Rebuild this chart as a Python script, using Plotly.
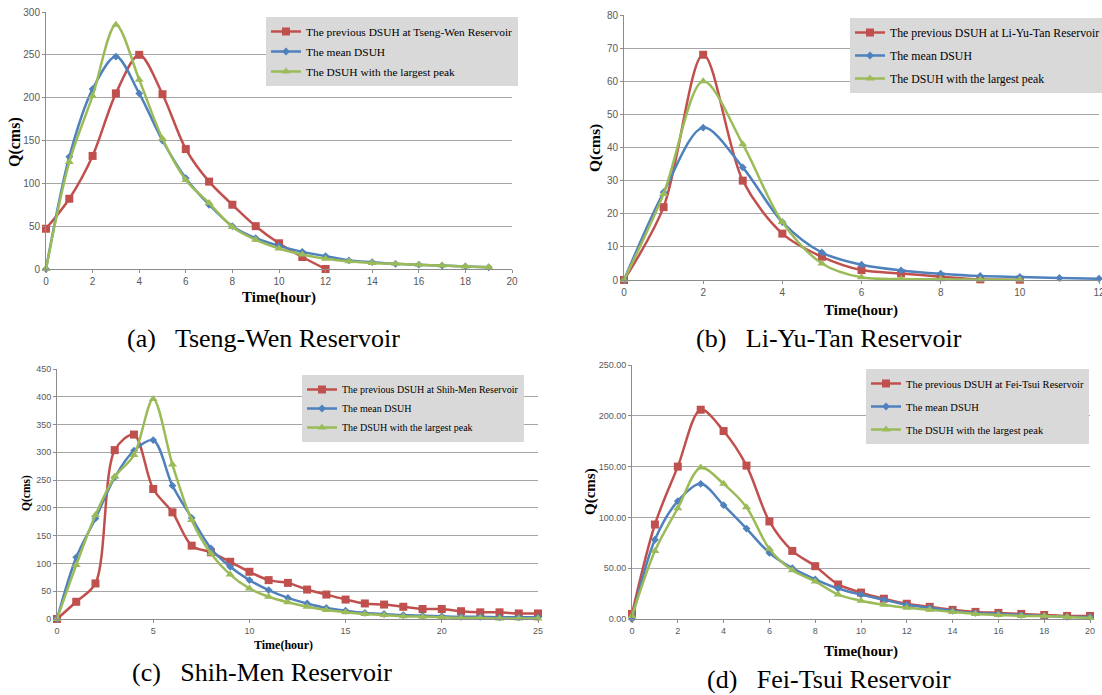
import plotly.graph_objects as go

W, H = 1102, 695

# ---------------- data ----------------
# (a) Tseng-Wen
tw_prev_t = [0, 1, 2, 3, 4, 5, 6, 7, 8, 9, 10, 11, 12]
tw_prev_q = [47, 82, 132, 205, 250, 204, 140, 102, 75, 50, 30, 14, 0]
tw_mean_t = list(range(0, 20))
tw_mean_q = [0, 131, 210, 248, 205, 150, 106, 75, 50, 36, 27, 20, 15, 10, 8, 6, 5, 4, 3, 2]
tw_max_t = list(range(0, 20))
tw_max_q = [0, 125, 202, 285, 221, 152, 104, 77, 49, 34, 24, 17, 12, 9, 7, 6, 5, 4, 3, 2]

# (b) Li-Yu-Tan
ly_prev_t = [0, 1, 2, 3, 4, 5, 6, 7, 8, 9, 10]
ly_prev_q = [0, 22, 68, 30, 14, 7, 3, 2, 1, 0.2, 0.1]
ly_mean_t = list(range(0, 13))
ly_mean_q = [0, 26.5, 46, 34, 17.5, 8.3, 4.6, 2.9, 1.9, 1.2, 0.9, 0.6, 0.4]
ly_max_t = [0, 1, 2, 3, 4, 5, 6, 7, 8, 9, 10]
ly_max_q = [0, 26, 60, 41, 17.5, 5, 0.8, 0.3, 0.2, 0.1, 0.1]

# (c) Shih-Men
sm_t = list(range(0, 26))
sm_prev_q = [0, 31, 64, 304, 332, 234, 192, 132, 120, 103, 85, 70, 65, 53, 44, 35,
             28, 26, 22, 18, 18, 14, 12, 12, 10, 10]
sm_mean_q = [0, 111, 181, 255, 303, 322, 240, 182, 127, 94, 70, 52, 38, 28, 20, 15,
             11, 9, 7, 6, 5, 4, 4, 3, 3, 3]
sm_max_q = [0, 97, 187, 256, 295, 396, 278, 178, 118, 80, 55, 40, 30, 22, 16, 12,
            9, 7, 5, 4, 3, 2, 2, 1, 1, 1]

# (d) Fei-Tsui
ft_t = list(range(0, 21))
ft_prev_q = [5, 93, 150, 206, 185, 151, 96, 67, 52, 34, 26, 20, 15, 12, 9, 7, 6, 5, 4, 3, 3]
ft_mean_q = [0, 78, 116, 133, 112, 89, 65, 50, 39, 30, 24, 19, 14, 11, 8, 6, 5, 4, 3, 2, 2]
ft_max_q = [3, 67, 109, 149, 133, 110, 69, 48, 37, 24, 18, 14, 11, 9, 7, 5, 4, 3, 3, 2, 1]

names_a = ["The previous DSUH at Tseng-Wen Reservoir", "The mean DSUH", "The DSUH with the largest peak"]
names_b = ["The previous DSUH at Li-Yu-Tan Reservoir", "The mean DSUH", "The DSUH with the largest peak"]
names_c = ["The previous DSUH at Shih-Men Reservoir", "The mean DSUH", "The DSUH with the largest peak"]
names_d = ["The previous DSUH at Fei-Tsui Reservoir", "The mean DSUH", "The DSUH with the largest peak"]

captions = ["(a)   Tseng-Wen Reservoir", "(b)   Li-Yu-Tan Reservoir",
            "(c)   Shih-Men Reservoir", "(d)   Fei-Tsui Reservoir"]

RED, BLUE, GREEN = "#C0504D", "#4F81BD", "#9BBB59"
SERIF = "Liberation Serif"


def px(x):
    return x / W


def py(y):
    return 1 - y / H


fig = go.Figure()

panels = [
    dict(ax="", box=(46, 512, 12, 269), xr=[0, 20], xd=2, yr=[0, 300], yd=50, yfmt=None,
         series=[(tw_prev_t, tw_prev_q), (tw_mean_t, tw_mean_q), (tw_max_t, tw_max_q)], names=names_a,
         leg=(266, 17), legfont=11.4, gap=1, tick=10,
         qt=(15, 142, 16), tt=(279, 298, 15), cap=(263, 338), capsize=26),
    dict(ax="2", box=(624, 1099, 15, 280), xr=[0, 12], xd=2, yr=[0, 80], yd=10, yfmt=None,
         series=[(ly_prev_t, ly_prev_q), (ly_mean_t, ly_mean_q), (ly_max_t, ly_max_q)], names=names_b,
         leg=(850, 18), legfont=11.8, gap=4, tick=10,
         qt=(595, 148, 15.5), tt=(861, 310, 15), cap=(829, 338), capsize=26),
    dict(ax="3", box=(57, 538, 369, 619), xr=[0, 25], xd=5, yr=[0, 450], yd=50, yfmt=None,
         series=[(sm_t, sm_prev_q), (sm_t, sm_mean_q), (sm_t, sm_max_q)], names=names_c,
         leg=(302, 375), legfont=10, gap=0, tick=9,
         qt=(26, 493, 11.5), tt=(283, 645, 12), cap=(262, 672), capsize=26),
    dict(ax="4", box=(632, 1090, 365, 619), xr=[0, 20], xd=2, yr=[0, 250], yd=50, yfmt=".2f",
         series=[(ft_t, ft_prev_q), (ft_t, ft_mean_q), (ft_t, ft_max_q)], names=names_d,
         leg=(866, 369), legfont=10.5, gap=4, tick=9,
         qt=(590, 492, 15), tt=(861, 651, 15), cap=(829, 679), capsize=26),
]

styles = [
    dict(color=RED, symbol="square", size=8),
    dict(color=BLUE, symbol="diamond", size=6),
    dict(color=GREEN, symbol="triangle-up", size=8),
]

annotations = []
for i, p in enumerate(panels):
    ax = p["ax"]
    legname = "legend" if ax == "" else "legend" + ax
    for j, ((t, q), st) in enumerate(zip(p["series"], styles)):
        fig.add_trace(go.Scatter(
            x=t, y=q, mode="lines+markers", name=p["names"][j],
            line=dict(color=st["color"], width=2.5, shape="spline", smoothing=0.9),
            marker=dict(color=st["color"], symbol=st["symbol"], size=st["size"]),
            xaxis="x" + ax, yaxis="y" + ax, legend=legname,
            legendgroup=f"g{i}{j}", cliponaxis=False,
        ))
    x0, x1, y0, y1 = p["box"]
    xa = dict(domain=[px(x0), px(x1)], range=p["xr"], dtick=p["xd"], tick0=0,
              showgrid=False, zeroline=False, showline=True, linecolor="#8C8C8C", linewidth=1,
              ticks="outside", ticklen=3, tickcolor="#8C8C8C", ticklabeloverflow="allow",
              tickfont=dict(family="Liberation Sans", size=p["tick"], color="#595959"),
              anchor="y" + ax, fixedrange=True, automargin=False)
    ya = dict(domain=[py(y1), py(y0)], range=p["yr"], dtick=p["yd"], tick0=0,
              showgrid=True, gridcolor="#A6A6A6", gridwidth=1, zeroline=False,
              showline=True, linecolor="#8C8C8C", linewidth=1,
              ticks="outside", ticklen=3, tickcolor="#8C8C8C", ticklabeloverflow="allow",
              tickfont=dict(family="Liberation Sans", size=p["tick"], color="#595959"),
              anchor="x" + ax, fixedrange=True, automargin=False)
    if p["yfmt"]:
        ya["tickformat"] = p["yfmt"]
    fig.update_layout(**{"xaxis" + ax: xa, "yaxis" + ax: ya})

    lx, ly = p["leg"]
    fig.update_layout(**{legname: dict(
        x=px(lx), y=py(ly), xanchor="left", yanchor="top", xref="paper", yref="paper",
        bgcolor="#D9D9D9", borderwidth=0, itemwidth=30, tracegroupgap=p["gap"],
        traceorder="grouped",
        font=dict(family=SERIF, size=p["legfont"], color="#000000"),
    )})

    qx, qy, qs = p["qt"]
    annotations.append(dict(text="<b>Q(cms)</b>", x=px(qx), y=py(qy), xref="paper", yref="paper",
                            xanchor="center", yanchor="middle",
                            showarrow=False, textangle=-90,
                            font=dict(family=SERIF, size=qs, color="#000000")))
    tx, ty, ts = p["tt"]
    annotations.append(dict(text="<b>Time(hour)</b>", x=px(tx), y=py(ty), xref="paper", yref="paper",
                            xanchor="center", yanchor="middle",
                            showarrow=False, font=dict(family=SERIF, size=ts, color="#000000")))
    cx, cy = p["cap"]
    annotations.append(dict(text=captions[i], x=px(cx), y=py(cy), xref="paper", yref="paper",
                            xanchor="center", yanchor="middle",
                            showarrow=False, font=dict(family=SERIF, size=p["capsize"], color="#000000")))

fig.update_layout(
    width=W, height=H, margin=dict(l=0, r=0, t=0, b=0, autoexpand=False),
    paper_bgcolor="white", plot_bgcolor="white",
    annotations=annotations, showlegend=True,
)

fig.write_html("out.html", config={"displayModeBar": False},
               post_script="document.body.style.margin='0px';")
